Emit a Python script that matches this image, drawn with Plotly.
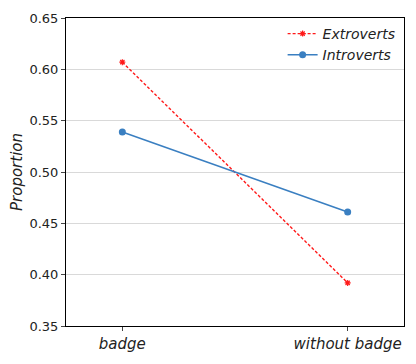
import plotly.graph_objects as go

# data
conditions = ["badge", "without badge"]
extroverts = [0.607, 0.392]
introverts = [0.539, 0.461]
y_ticks = [0.35, 0.40, 0.45, 0.50, 0.55, 0.60, 0.65]

fig = go.Figure()
fig.add_trace(go.Scatter(
    x=[0, 1], y=extroverts, name="Extroverts", mode="lines+markers",
    line=dict(color="#ff1a1a", width=1.4, dash="3px,2px"),
    marker=dict(symbol="asterisk", size=5, color="#ff1a1a",
                line=dict(color="#ff1a1a", width=1.2)),
))
fig.add_trace(go.Scatter(
    x=[0, 1], y=introverts, name="Introverts", mode="lines+markers",
    line=dict(color="#3a7fc1", width=1.5),
    marker=dict(symbol="circle", size=7, color="#3a7fc1"),
))

fig.update_layout(
    width=416, height=364,
    margin=dict(l=58, r=20, t=10, b=46),
    paper_bgcolor="white", plot_bgcolor="white",
    font=dict(family="DejaVu Sans", color="#222222", size=13),
    legend=dict(x=0.99, y=1.0, xanchor="right", yanchor="top",
                bgcolor="rgba(255,255,255,0)",
                font=dict(size=14, style="italic"),
                itemwidth=30, tracegroupgap=0),
)
fig.update_xaxes(
    range=[-0.25, 1.25], tickvals=[0, 1], ticktext=conditions,
    tickfont=dict(size=15, style="italic"), automargin=False,
    showgrid=False, showline=True, linecolor="black", linewidth=1,
    mirror=True, ticks="outside", ticklen=4, tickcolor="#444", zeroline=False,
)
fig.update_yaxes(
    range=[0.35, 0.65], tickvals=y_ticks, automargin=False,
    ticktext=[f"{v:.2f}" for v in y_ticks],
    showgrid=True, gridcolor="#d9d9d9", gridwidth=1,
    showline=True, linecolor="black", linewidth=1, mirror=True,
    ticks="outside", ticklen=4, tickcolor="#444", zeroline=False,
    title=dict(text="Proportion", font=dict(size=15, style="italic"), standoff=8),
)

fig.write_html("out.html")
